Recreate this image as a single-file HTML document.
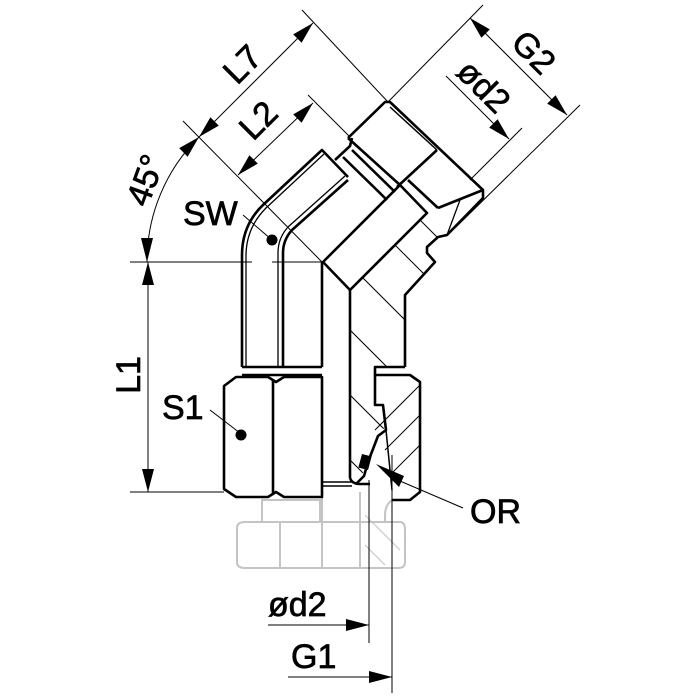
<!DOCTYPE html>
<html><head><meta charset="utf-8"><style>
html,body{margin:0;padding:0;background:#fff;}
svg{display:block;}
text{font-family:"Liberation Sans",Arial,sans-serif;font-size:34px;fill:#000;stroke:#000;stroke-width:0.7;}
</style></head><body>
<svg width="700" height="700" viewBox="0 0 700 700" xmlns="http://www.w3.org/2000/svg">
<defs>
<clipPath id="hc">
<polygon points="350,290 427,213 438,208 447,235 438,237 427,247 427,253 435,262 405,295 405,367 375,367 375,405 383,405 385,428 378,432 370,455 365,470 355,483 350,480"/>
</clipPath>
</defs>

<!-- gray ghost -->
<g fill="none" stroke="#c4c4c4" stroke-width="2">
<path d="M262,500 L320,500 L320,522 L262,522 Z"/>
<path d="M237,528 Q237,522 245,522 L400,522 Q405,522 405,530 L405,562 Q405,568 398,568 L245,568 Q237,568 237,562 Z"/>
<line x1="280" y1="522" x2="280" y2="568"/>
<line x1="322" y1="497" x2="322" y2="568"/>
<line x1="360" y1="492" x2="360" y2="568"/>
<path d="M392,500 Q385,505 385,515 L385,522"/>
<line x1="365" y1="515" x2="400" y2="550" stroke-width="1"/>
<line x1="365" y1="545" x2="385" y2="565" stroke-width="1"/>
</g>

<!-- hatching -->
<g clip-path="url(#hc)" stroke="#000" stroke-width="1">
<line x1="300" y1="150" x2="520" y2="370"/>
<line x1="280" y1="195" x2="500" y2="415"/>
<line x1="260" y1="240" x2="480" y2="460"/>
<line x1="240" y1="285" x2="460" y2="505"/>
<line x1="220" y1="330" x2="440" y2="550"/>
<line x1="200" y1="375" x2="420" y2="595"/>
<line x1="330" y1="130" x2="540" y2="340"/>
<line x1="350" y1="110" x2="560" y2="320"/>
</g>
<g stroke="#000" stroke-width="1">
<line x1="420" y1="385" x2="375" y2="430"/>
<line x1="420" y1="415" x2="385" y2="450"/>
<line x1="420" y1="445" x2="390" y2="475"/>
</g>

<!-- main outlines -->
<g fill="none" stroke="#000" stroke-width="2.6" stroke-linejoin="round">
<path d="M242,367 L242,255 Q242,225 263,205 L322,150 L348,177"/>
<path d="M246,367 L246,256 Q246,228 266,208 L324,154" stroke-width="1.3"/>
<path d="M283,367 L283,253 Q283,240 292,230 L348,180"/>
<path d="M278,367 L278,253 Q278,238 288,227 L345,176" stroke-width="1.3"/>
<line x1="322" y1="262" x2="322" y2="367"/>
<path d="M242,367 L322,367 M242,375 L322,375" />
<path d="M335,160 L350,146 L352,138"/>
<line x1="343" y1="157" x2="387" y2="200"/>
<line x1="352" y1="150" x2="395" y2="192"/>
<path d="M348,138 L385,102 L390,102 L483,190 L483,198 L447,235 L438,237 L427,247 L427,253 L435,262 L405,295 L405,367"/>
<line x1="348" y1="138" x2="400" y2="185"/>
<line x1="390" y1="107" x2="437" y2="150" stroke-width="1.5"/>
<line x1="437" y1="150" x2="397" y2="187"/>
<line x1="408" y1="180" x2="438" y2="208"/>
<line x1="438" y1="208" x2="483" y2="190"/>
<line x1="447" y1="235" x2="460" y2="200" stroke-width="1.3"/>
<polygon points="323,262 400,185 427,213 350,290"/>
<line x1="350" y1="290" x2="350" y2="478"/>
<path d="M350,478 Q352,484 360,484 L370,484"/>
<path d="M405,367 L375,367 L375,375 L410,375 L420,382 L420,492 L410,500 L392,500"/>
<path d="M375,375 L375,405 L383,405 L386,430 L378,436 L368,462 L364,476 L356,484"/>
<line x1="386" y1="430" x2="392" y2="490" stroke-width="1.5"/>
<path d="M224,386 L236,377 L268,377 L276,382 L284,377 L322,377 L322,497 L284,497 L276,492 L268,497 L236,497 L224,489 Z"/>
<line x1="273" y1="380" x2="273" y2="494"/>
<line x1="323" y1="482" x2="352" y2="482" stroke-width="1.5"/>
<line x1="323" y1="486" x2="352" y2="486" stroke-width="1.5"/>
</g>

<rect x="360" y="455" width="10" height="14" fill="#000" transform="rotate(15 365 462)"/>
<polygon points="376,464 404,476 399,487" fill="#000"/>
<line x1="400" y1="481" x2="463" y2="508" stroke="#000" stroke-width="1"/>

<g stroke="#000" stroke-width="1" fill="none">
<line x1="130" y1="262" x2="252" y2="262"/>
<line x1="272" y1="262" x2="322" y2="262"/>
<line x1="130" y1="492" x2="224" y2="492"/>
<line x1="148" y1="262" x2="148" y2="492"/>
<path d="M147,262 A175,175 0 0 1 199,137"/>
<line x1="183" y1="121" x2="322" y2="262"/>
<line x1="302" y1="10" x2="388" y2="102"/>
<line x1="308" y1="95" x2="350" y2="137"/>
<line x1="199" y1="137" x2="313" y2="23"/>
<line x1="238" y1="175" x2="313" y2="103"/>
<line x1="483" y1="5" x2="388" y2="102"/>
<line x1="580" y1="105" x2="455" y2="228"/>
<line x1="522" y1="128" x2="470" y2="180"/>
<line x1="470" y1="18" x2="567" y2="115"/>
<line x1="446" y1="76" x2="509" y2="139"/>
<line x1="243" y1="215" x2="272" y2="240"/>
<line x1="210" y1="410" x2="240" y2="433"/>
<line x1="369" y1="480" x2="369" y2="643"/>
<line x1="392" y1="455" x2="392" y2="693"/>
<line x1="268" y1="625" x2="369" y2="625"/>
<line x1="288" y1="677" x2="392" y2="677"/>
</g>

<g fill="#000">
<polygon points="148,262 142,285 154,285"/>
<polygon points="148,492 142,469 154,469"/>
<polygon points="147,262 141,238 153,238"/>
<polygon points="199,137 187.6,156.7 179.2,148.1"/>
<polygon points="199,137 218.8,125.6 210.4,117.2"/>
<polygon points="313,23 301.6,42.8 293.2,34.4"/>
<polygon points="238,175 257.8,163.6 249.4,155.2"/>
<polygon points="313,103 301.6,122.8 293.2,114.4"/>
<polygon points="470,18 489.8,29.4 481.4,37.8"/>
<polygon points="567,115 555.6,95.2 547.2,103.6"/>
<polygon points="509,139 497.6,119.2 489.2,127.6"/>
<polygon points="369,625 346,619 346,631"/>
<polygon points="392,677 369,671 369,683"/>
<circle cx="272" cy="240" r="5.5"/>
<circle cx="241" cy="435" r="5.5"/>
</g>

<text x="128" y="375" text-anchor="middle" transform="rotate(-90 128 375)" dy="12">L1</text>
<text x="145" y="180" text-anchor="middle" transform="rotate(-70 145 180)" dy="12">45°</text>
<text x="242" y="64" text-anchor="middle" transform="rotate(-45 242 64)" dy="12">L7</text>
<text x="258" y="120" text-anchor="middle" transform="rotate(-45 258 120)" dy="12">L2</text>
<text x="534" y="52" text-anchor="middle" transform="rotate(45 534 52)" dy="12">G2</text>
<text x="484" y="86" text-anchor="middle" transform="rotate(45 484 86)" dy="12">ød2</text>
<text x="183" y="225">SW</text>
<text x="162" y="419">S1</text>
<text x="470" y="523">OR</text>
<text x="268" y="616">ød2</text>
<text x="291" y="668">G1</text>
</svg>
</body></html>
